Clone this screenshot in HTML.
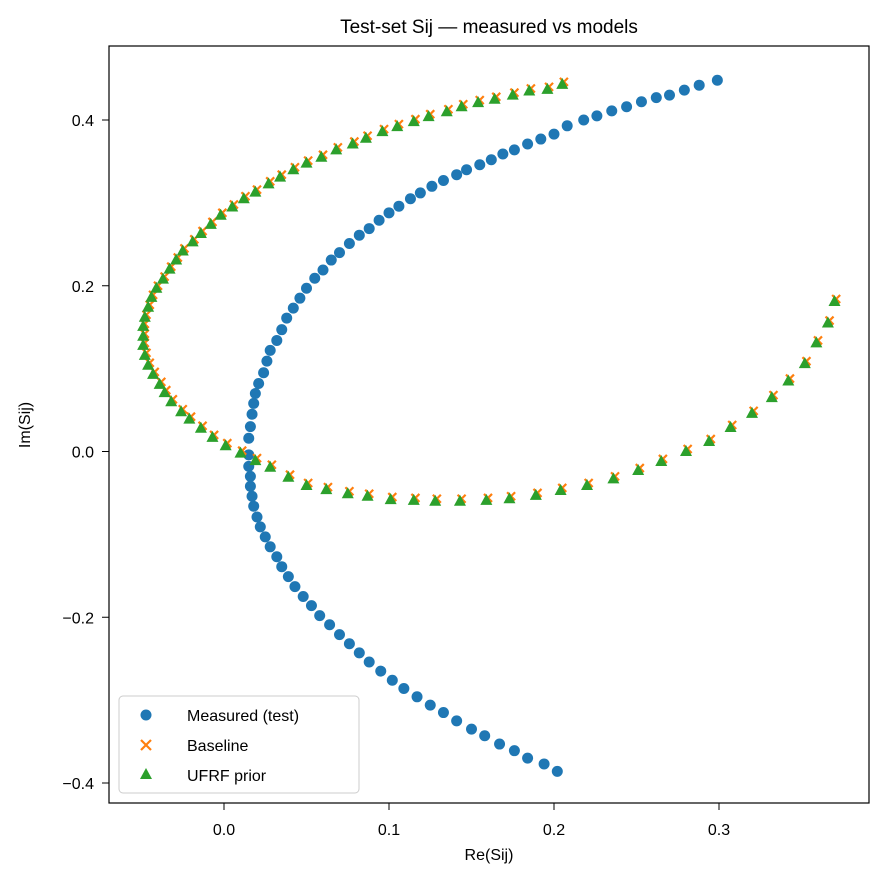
<!DOCTYPE html>
<html><head><meta charset="utf-8">
<style>
body{margin:0;background:#fff;}
svg text{font-family:"Liberation Sans","DejaVu Sans",sans-serif;fill:#000;}
</style></head>
<body>
<svg id="chart" width="884" height="882" viewBox="0 0 884 882" xmlns="http://www.w3.org/2000/svg">
<rect width="884" height="882" fill="#fff"/>
<text x="489" y="33" text-anchor="middle" font-size="19">Test-set Sij — measured vs models</text>
<text x="489" y="860" text-anchor="middle" font-size="16">Re(Sij)</text>
<text x="30" y="425" text-anchor="middle" font-size="16" transform="rotate(-90 30 425)">Im(Sij)</text>
<g id="ticks"></g>
<g id="marks"></g>
<rect x="109" y="46" width="760" height="757" fill="none" stroke="#000" stroke-width="1.2"/>
<g>
<rect x="119" y="696" width="240" height="97" rx="4" fill="#fff" fill-opacity="0.8" stroke="#ccc"/>
<circle cx="146" cy="715" r="5.5" fill="#1f77b4"/>
<text x="187" y="721" font-size="16">Measured (test)</text>
<path d="M141,740 L151,750 M151,740 L141,750" stroke="#ff7f0e" stroke-width="2.2"/>
<text x="187" y="751" font-size="16">Baseline</text>
<path d="M146,768 L152,779 L140,779 Z" fill="#2ca02c"/>
<text x="187" y="781" font-size="16">UFRF prior</text>
</g>
</svg>
<script>
const xTicks = [0.0, 0.1, 0.2, 0.3];
const xTickLabels = ["0.0", "0.1", "0.2", "0.3"];
const yTicks = [-0.4, -0.2, 0.0, 0.2, 0.4];
const yTickLabels = ["\u22120.4", "\u22120.2", "0.0", "0.2", "0.4"];

const measuredRe = [.202,.194,.184,.176,.167,.158,.150,.141,.133,.125,.117,.109,.102,.095,.088,.082,.076,.070,.064,.058,.053,.048,.043,.039,.035,.032,.028,.025,.022,.020,.018,.017,.016,.016,.015,.015,.015,.016,.017,.018,.019,.021,.024,.026,.028,.032,.035,.038,.042,.046,.050,.055,.060,.065,.070,.076,.082,.088,.094,.100,.106,.113,.119,.126,.133,.141,.147,.155,.162,.169,.176,.184,.192,.200,.208,.218,.226,.235,.244,.253,.262,.270,.279,.288,.299];
const measuredIm = [-.386,-.377,-.370,-.361,-.353,-.343,-.335,-.325,-.315,-.306,-.296,-.286,-.276,-.265,-.254,-.243,-.232,-.221,-.209,-.198,-.186,-.175,-.163,-.151,-.139,-.127,-.115,-.103,-.091,-.079,-.066,-.054,-.042,-.030,-.018,-.004,.016,.030,.045,.058,.070,.082,.095,.109,.122,.134,.147,.161,.173,.185,.197,.209,.219,.231,.240,.251,.261,.269,.279,.288,.296,.305,.312,.320,.327,.334,.340,.346,.352,.359,.364,.371,.377,.383,.393,.400,.405,.411,.416,.422,.427,.430,.436,.442,.448];

const baselineRe = [.206,.197,.186,.176,.165,.155,.145,.136,.125,.116,.106,.097,.087,.079,.069,.060,.051,.043,.035,.028,.020,.013,.006,-.001,-.007,-.013,-.018,-.024,-.028,-.032,-.036,-.040,-.043,-.045,-.047,-.048,-.048,-.048,-.047,-.045,-.042,-.038,-.035,-.031,-.025,-.020,-.013,-.006,.002,.011,.020,.029,.040,.051,.063,.076,.088,.102,.116,.129,.144,.160,.174,.190,.205,.221,.237,.252,.266,.281,.295,.308,.321,.333,.343,.353,.360,.367,.371];
const baselineIm = [.446,.440,.438,.433,.428,.424,.419,.413,.407,.401,.395,.389,.381,.374,.367,.358,.351,.343,.334,.326,.316,.308,.298,.288,.277,.266,.256,.245,.234,.223,.211,.200,.189,.177,.165,.154,.142,.131,.119,.107,.096,.084,.074,.063,.051,.042,.031,.020,.010,.001,-.008,-.016,-.028,-.038,-.043,-.048,-.051,-.055,-.056,-.057,-.057,-.056,-.054,-.050,-.044,-.038,-.030,-.020,-.009,.003,.015,.032,.049,.068,.088,.109,.134,.158,.184];

const ufrfRe = [.205,.196,.185,.175,.164,.154,.144,.135,.124,.115,.105,.096,.086,.078,.068,.059,.050,.042,.034,.027,.019,.012,.005,-.002,-.008,-.014,-.019,-.025,-.029,-.033,-.037,-.041,-.044,-.046,-.048,-.049,-.049,-.049,-.048,-.046,-.043,-.039,-.036,-.032,-.026,-.021,-.014,-.007,.001,.010,.019,.028,.039,.050,.062,.075,.087,.101,.115,.128,.143,.159,.173,.189,.204,.220,.236,.251,.265,.280,.294,.307,.320,.332,.342,.352,.359,.366,.370];
const ufrfIm = [.443,.437,.435,.430,.425,.421,.416,.410,.404,.398,.392,.386,.378,.371,.364,.355,.348,.340,.331,.323,.313,.305,.295,.285,.274,.263,.253,.242,.231,.220,.208,.197,.186,.174,.162,.151,.139,.128,.116,.104,.093,.081,.071,.060,.048,.039,.028,.017,.007,-.002,-.011,-.019,-.031,-.041,-.046,-.051,-.054,-.058,-.059,-.060,-.060,-.059,-.057,-.053,-.047,-.041,-.033,-.023,-.012,.000,.012,.029,.046,.065,.085,.106,.131,.155,.181];

const NS = "http://www.w3.org/2000/svg";
function xScale(v){ return 224 + 1650 * v; }
function yScale(v){ return 451.5 - 828.75 * v; }
function mk(tag, attrs, parent){
  const el = document.createElementNS(NS, tag);
  for (const k in attrs) el.setAttribute(k, attrs[k]);
  parent.appendChild(el);
  return el;
}
const ticks = document.getElementById("ticks");
xTicks.forEach((t, i) => {
  const x = xScale(t);
  const l = mk("line", {x1:x, x2:x, y1:803, y2:810, stroke:"#000", "stroke-width":1}, ticks);
  
  
  const tx = mk("text", {x:x, y:835, "text-anchor":"middle", "font-size":16}, ticks);
  tx.textContent = xTickLabels[i];
  
  
});
yTicks.forEach((t, i) => {
  const y = yScale(t);
  const l = mk("line", {x1:102, x2:109, y1:y, y2:y, stroke:"#000", "stroke-width":1}, ticks);
  
  
  const tx = mk("text", {x:94, y:y+6, "text-anchor":"end", "font-size":16}, ticks);
  tx.textContent = yTickLabels[i];
  
  
});
const marks = document.getElementById("marks");
measuredRe.forEach((v, i) => {
  const c = mk("circle", {cx:xScale(v), cy:yScale(measuredIm[i]), r:5.5, fill:"#1f77b4"}, marks);
  
  
});
baselineRe.forEach((v, i) => {
  const x = xScale(v), y = yScale(baselineIm[i]);
  const p = mk("path", {d:`M${x-4},${y-4} L${x+4},${y+4} M${x+4},${y-4} L${x-4},${y+4}`, stroke:"#ff7f0e", "stroke-width":2.2}, marks);
  
  
});
ufrfRe.forEach((v, i) => {
  const x = xScale(v), y = yScale(ufrfIm[i]);
  const p = mk("path", {d:`M${x},${y-6.5} L${x+6},${y+4.5} L${x-6},${y+4.5} Z`, fill:"#2ca02c"}, marks);
  
  
});
</script>
</body></html>
